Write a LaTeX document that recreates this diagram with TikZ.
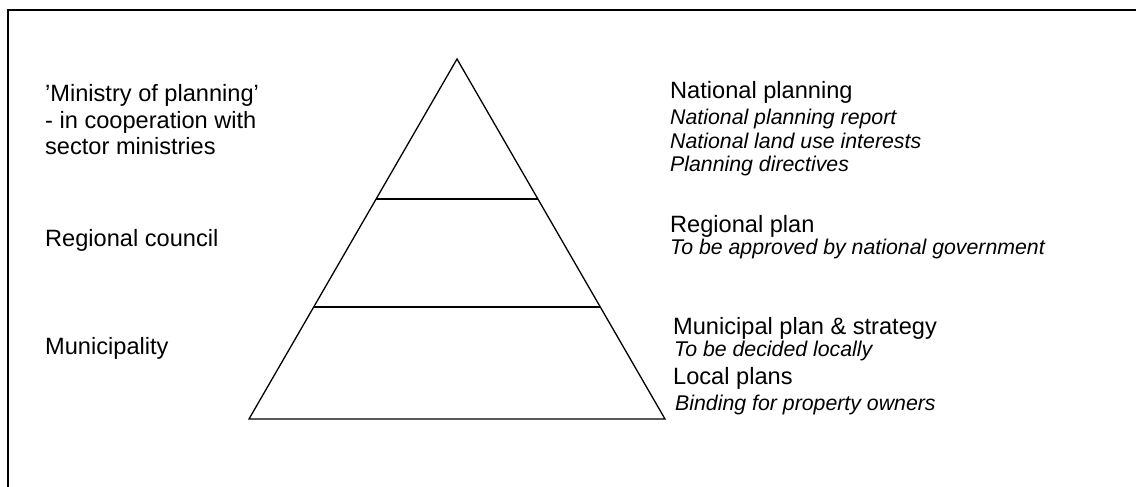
\documentclass[tikz,border=0pt]{standalone}
\usepackage{fontspec}
\setmainfont{Liberation Sans}
\begin{document}
\begin{tikzpicture}[x=1bp,y=-1bp,
  frame/.style={line width=2bp},
  edge/.style={line width=1.3bp, line join=miter},
  lbl/.style={anchor=base west, inner sep=0pt, font=\fontsize{23.6bp}{27bp}\selectfont},
  note/.style={anchor=base west, inner sep=0pt, font=\fontsize{21.3bp}{24bp}\selectfont\itshape}]
  \useasboundingbox (0,0) rectangle (1136,487);
  % open frame: top and left sides
  \draw[frame] (1136,10) -- (8,10) -- (8,487);
  % pyramid with its three levels
  \coordinate (apex) at (457,59);
  \coordinate (bl) at (249,419);
  \coordinate (br) at (665,419);
  \coordinate (t1l) at (376.1,199);
  \coordinate (t1r) at (537.9,199);
  \coordinate (t2l) at (313.7,307);
  \coordinate (t2r) at (600.3,307);
  \draw[edge] (apex) -- (bl) -- (br) -- cycle;
  \draw[edge] (t1l) -- (t1r);
  \draw[edge] (t2l) -- (t2r);
  % actors on the left
  \node[lbl] (min1) at (45,102) {'Ministry of planning'};
  \node[lbl] (min2) at (45,128.5) {- in cooperation with};
  \node[lbl] (min3) at (45,155) {sector ministries};
  \node[lbl] (reg) at (45,247) {Regional council};
  \node[lbl] (mun) at (45,355) {Municipality};
  % plans on the right
  \node[lbl] (nat) at (670,99) {National planning};
  \node[note] (nat1) at (670,125) {National planning report};
  \node[note] (nat2) at (670,148.5) {National land use interests};
  \node[note] (nat3) at (670,172) {Planning directives};
  \node[lbl] (rp) at (670,233) {Regional plan};
  \node[note] (rp1) at (670,255) {To be approved by national government};
  \node[lbl] (mp) at (673,335) {Municipal plan \& strategy};
  \node[note] (mp1) at (674,357) {To be decided locally};
  \node[lbl] (lp) at (673,385) {Local plans};
  \node[note] (lp1) at (675,410) {Binding for property owners};
\end{tikzpicture}
\end{document}
